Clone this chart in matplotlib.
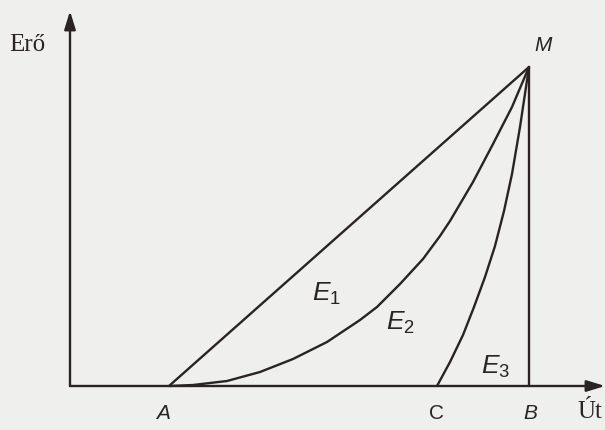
import matplotlib
matplotlib.use("Agg")
import matplotlib.pyplot as plt

# Points (Út on x, Erő on y, arbitrary units)
x_A, x_C, x_B = 0.99, 3.67, 4.59
y_M = 3.19

e1_x = [x_A, x_B]
e1_y = [0.0, y_M]

e2_x = [1.00, 1.23, 1.57, 1.90, 2.23, 2.57, 2.90, 3.07, 3.30, 3.53, 3.70,
        3.80, 4.03, 4.23, 4.42, 4.59]
e2_y = [0.00, 0.01, 0.05, 0.14, 0.27, 0.44, 0.66, 0.79, 1.02, 1.27, 1.50,
        1.65, 2.04, 2.42, 2.79, 3.19]

e3_x = [3.67, 3.80, 3.93, 4.04, 4.15, 4.25, 4.34, 4.42, 4.50, 4.59]
e3_y = [0.00, 0.24, 0.51, 0.79, 1.09, 1.40, 1.75, 2.12, 2.59, 3.19]

x_end, y_end = 5.35, 3.75

ink = "#2a2323"
bg = "#efefed"

plt.rcParams['mathtext.fontset'] = 'custom'
plt.rcParams['mathtext.it'] = 'Liberation Sans:italic'
plt.rcParams['mathtext.rm'] = 'Liberation Sans'

fig = plt.figure(figsize=(6.05, 4.31), dpi=100, facecolor=bg)
ax = fig.add_axes([0, 0, 1, 1])
ax.set_facecolor(bg)
ax.set_xlim(-0.70, 5.35)
ax.set_ylim(-0.44, 3.87)
ax.axis("off")

# axes with arrow heads
arrow = dict(arrowstyle='-|>,head_length=0.55,head_width=0.17', lw=1.7,
             color=ink, mutation_scale=20, shrinkA=0, shrinkB=0)
ax.annotate('', xy=(x_end, 0), xytext=(0, 0), arrowprops=arrow)
ax.annotate('', xy=(0, y_end), xytext=(0, 0), arrowprops=arrow)

# curves
line = dict(color=ink, lw=1.7, solid_joinstyle='round', solid_capstyle='round')
ax.plot(e1_x, e1_y, **line)
ax.plot(e2_x, e2_y, **line)
ax.plot(e3_x, e3_y, **line)
ax.plot([x_B, x_B], [0, y_M], **line)

sans = 'Liberation Sans'
serif = 'Liberation Serif'

ax.text(-0.43, 3.42, 'Erő', family=serif, fontsize=18, color=ink,
        ha='center', va='center')
ax.text(5.20, -0.25, 'Út', family=serif, fontsize=18, color=ink,
        ha='center', va='center')
ax.text(4.73, 3.42, 'M', family=sans, style='italic', fontsize=15,
        color=ink, ha='center', va='center')
ax.text(0.93, -0.27, 'A', family=sans, style='italic', fontsize=15,
        color=ink, ha='center', va='center')
ax.text(3.67, -0.27, 'C', family=sans, fontsize=15,
        color=ink, ha='center', va='center')
ax.text(4.60, -0.27, 'B', family=sans, style='italic', fontsize=15,
        color=ink, ha='center', va='center')

ax.text(2.56, 0.93, r'$\mathit{E_1}$', fontsize=19, color=ink,
        ha='center', va='center')
ax.text(3.30, 0.64, r'$\mathit{E_2}$', fontsize=19, color=ink,
        ha='center', va='center')
ax.text(4.26, 0.20, r'$\mathit{E_3}$', fontsize=19, color=ink,
        ha='center', va='center')

fig.savefig("out.png", dpi=100, facecolor=bg)
